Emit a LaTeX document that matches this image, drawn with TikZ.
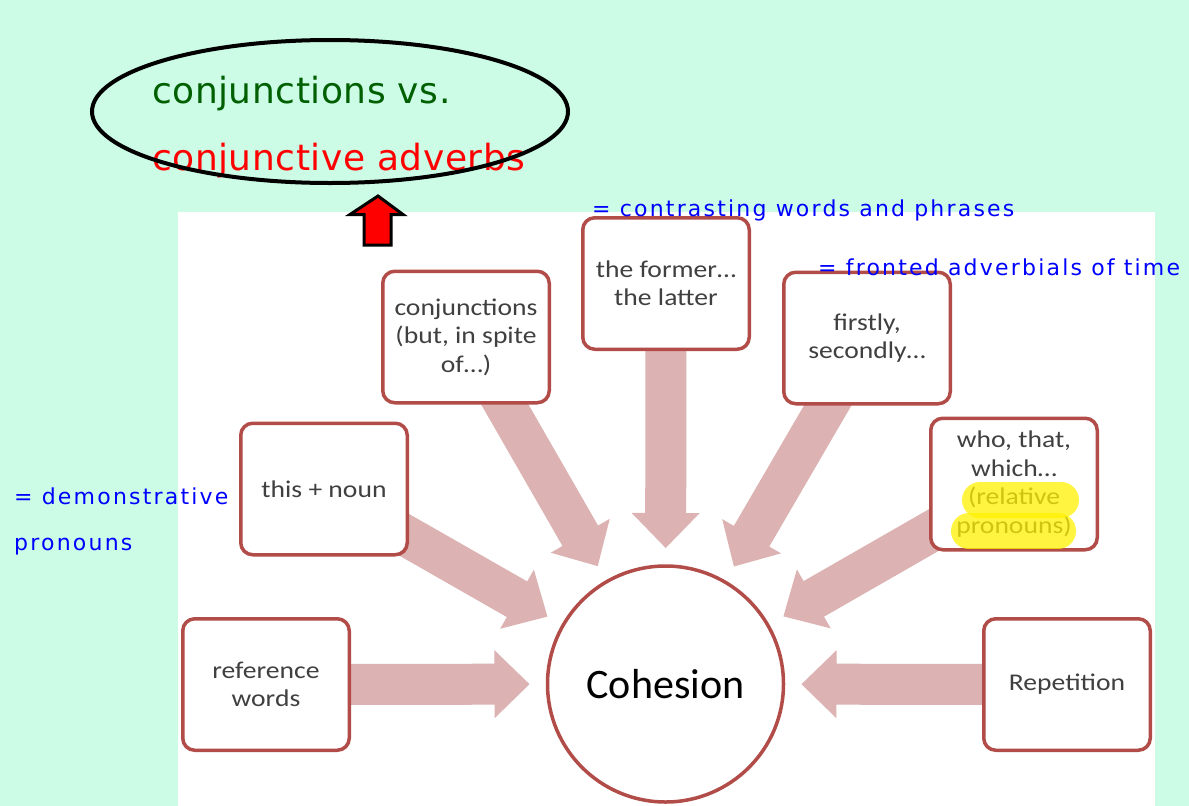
\documentclass[tikz,border=0pt]{standalone}
\usepackage{fontspec}
\setmainfont[FakeStretch=1.15]{Carlito}
\newfontfamily\hubfont{Carlito}
\newfontfamily\notefont[LetterSpace=10]{DejaVu Sans}
\newfontfamily\ovalfont[LetterSpace=1.5]{DejaVu Sans}
\usetikzlibrary{calc}

\pgfdeclarelayer{bg}
\pgfdeclarelayer{spokes}
\pgfsetlayers{bg,spokes,main}

\definecolor{mint}{RGB}{204,251,230}
\definecolor{boxred}{RGB}{178,76,72}
\definecolor{spokecol}{RGB}{220,178,178}
\definecolor{boxtext}{RGB}{64,64,64}
\definecolor{ovalgreen}{RGB}{0,95,0}

\tikzset{
  topic/.style={draw=boxred,line width=3.5pt,fill=white,rounded corners=12pt,
    minimum width=166.5pt,minimum height=131.5pt,align=center,text=boxtext,
    font=\fontsize{24}{28.5}\selectfont},
  hub/.style={circle,draw=boxred,line width=3.5pt,fill=white,minimum size=236pt,
    text=black,font=\hubfont\fontsize{42}{48}\selectfont},
  note/.style={text=blue,anchor=base west,inner sep=0pt,
    font=\notefont\fontsize{22}{26}\selectfont},
  ovaltext/.style={anchor=base west,inner sep=0pt,font=\ovalfont\fontsize{36}{42}\selectfont},
  hl/.style={yellow,opacity=0.75,line width=36pt,line cap=round},
}

\begin{document}
\begin{tikzpicture}[x=1pt,y=1pt]
  \useasboundingbox (0,0) rectangle (1189,-806);
  \begin{pgfonlayer}{bg}
    \fill[mint] (0,0) rectangle (1189,-806);
    \fill[white] (178,-212) rectangle (1155,-806);
  \end{pgfonlayer}

  % hub and topics
  \node[hub] (coh) at (665.5,-684) {Cohesion};
  \node[topic] (ref) at (266,-684.5) {reference\\words};
  \node[topic] (this) at (324,-489) {this + noun};
  \node[topic] (conj) at (466,-337) {conjunctions\\(but, in spite\\of…)};
  \node[topic] (former) at (666,-283.5) {the former…\\the latter};
  \node[topic] (first) at (867,-338) {firstly,\\secondly…};
  \node[topic] (who) at (1014,-484) {who, that,\\which…\\(relative\\pronouns)};
  \node[topic] (rep) at (1067,-684.5) {Repetition};

  % highlighter
  \draw[hl] (980,-500) -- (1061,-500);
  \draw[hl] (969,-531) -- (1058,-531);

  % block arrows towards the hub
  \begin{pgfonlayer}{spokes}
    \foreach \b in {ref,this,conj,former,first,who,rep}{
      \coordinate (\b-tip) at ($(coh.center)!136pt!(\b.center)$);
      \coordinate (\b-neck) at ($(\b-tip)!35pt!(\b.center)$);
      \fill[spokecol] ($(\b.center)!20.5pt!90:(\b-tip)$)
        -- ($(\b-neck)!20.5pt!90:(\b-tip)$) -- ($(\b-neck)!34pt!90:(\b-tip)$)
        -- (\b-tip)
        -- ($(\b-neck)!34pt!-90:(\b-tip)$) -- ($(\b-neck)!20.5pt!-90:(\b-tip)$)
        -- ($(\b.center)!20.5pt!-90:(\b-tip)$) -- cycle;
    }
  \end{pgfonlayer}

  % oval with title
  \node[ovaltext,text=ovalgreen] (vs) at (152,-103) {conjunctions vs.};
  \node[ovaltext,text=red] (adv) at (152,-170) {conjunctive adverbs};
  \draw[line width=4pt] (330,-111.5) ellipse [x radius=238, y radius=71.5];
  \draw[line width=3pt,fill=red,miter limit=10] (378,-196) -- (403,-214.5) -- (391,-214.5)
    -- (391,-245) -- (364,-245) -- (364,-214.5) -- (350,-214.5) -- cycle;

  % notes
  \node[note] (n1) at (592,-216) {= contrasting words and phrases};
  \node[note] (n2) at (818,-275) {= fronted adverbials of time};
  \node[note] (n3) at (14,-504) {= demonstrative};
  \node[note] (n4) at (14,-550) {pronouns};
\end{tikzpicture}
\end{document}
